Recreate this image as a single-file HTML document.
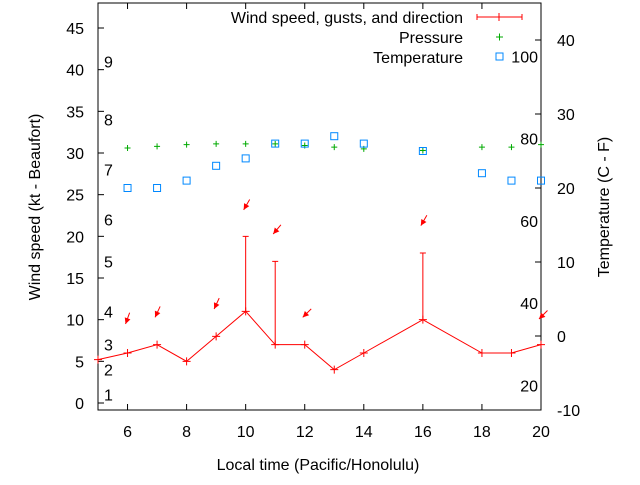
<!DOCTYPE html>
<html><head><meta charset="utf-8"><style>
body{margin:0;background:#fff;}
svg text{font-family:"Liberation Sans",sans-serif;font-size:16px;fill:#000;}
</style></head><body>
<svg id="c" width="640" height="480"></svg>
<script>
const hours=[6,7,8,9,10,11,12,13,14,16,18,19,20];
const windHours=[5,6,7,8,9,10,11,12,13,14,16,18,19,20];
const windSpeed=[5.2,6,7,5,8,11,7,7,4,6,10,6,6,7];
const gustHours=[10,11,16];
const gustSpeed=[20,17,18];
const pressure=[30.6,30.8,31,31.1,31.1,31.1,30.9,30.7,30.5,30.3,30.7,30.7,31];
const tempC=[20,20,21,23,24,26,26,27,26,25,22,21,21];
const arrowHours=[6,7,9,10,11,12,16,20];
const arrowLevel=[10.2,11,12,23.9,21,11,22,10.8];
const arrowDir=[20,25,25,30,40,45,30,45];
const xTicks=[6,8,10,12,14,16,18,20];
const yTicks=[0,5,10,15,20,25,30,35,40,45];
const y2Ticks=[-10,0,10,20,30,40];
const beaufort=[[1,1],[2,4],[3,7],[4,11],[5,17],[6,22],[7,28],[8,34],[9,41]];
const fahr=[20,40,60,80,100];

const L=98,R=541,T=3,B=410;
const X=h=>L+(h-5)*(R-L)/15;
const Y=v=>B-(v+0.84)*(B-T)/48.84;
const Y2=c=>336-c*7.4;
const svg=document.getElementById('c');
const NS='http://www.w3.org/2000/svg';
function el(tag,at,name,txt){const e=document.createElementNS(NS,tag);for(const k in at)e.setAttribute(k,at[k]);


if(txt!==undefined)e.textContent=txt;svg.appendChild(e);return e;}
el('rect',{x:L,y:T,width:R-L,height:B-T,fill:'none',stroke:'#000'},'plot-frame');
xTicks.forEach(h=>{const x=X(h);el('line',{x1:x,x2:x,y1:B,y2:B-6,stroke:'#000'},'x-tick');el('line',{x1:x,x2:x,y1:T,y2:T+6,stroke:'#000'},'x-tick-top');
el('text',{x:x,y:B+27,'text-anchor':'middle'},'x-tick-label',h);});
yTicks.forEach(v=>{const y=Y(v);el('line',{x1:L,x2:L+6,y1:y,y2:y,stroke:'#000'},'y-tick');
el('text',{x:L-14,y:y+6,'text-anchor':'end'},'y-tick-label',v);});
y2Ticks.forEach(c=>{const y=Y2(c);el('line',{x1:R,x2:R-6,y1:y,y2:y,stroke:'#000'},'y2-tick');
el('text',{x:R+16,y:y+6},'y2-tick-label',c);});
beaufort.forEach(b=>el('text',{x:104,y:Y(b[1])+6},'beaufort-label',b[0]));
fahr.forEach(f=>el('text',{x:538,y:Y2((f-32)*5/9)+6,'text-anchor':'end'},'fahrenheit-label',f));
el('text',{x:318,y:470,'text-anchor':'middle'},'x-axis-title','Local time (Pacific/Honolulu)');
el('text',{x:40,y:207,'text-anchor':'middle',transform:'rotate(-90 40 207)'},'y-axis-title','Wind speed (kt - Beaufort)');
el('text',{x:609,y:207,'text-anchor':'middle',transform:'rotate(-90 609 207)'},'y2-axis-title','Temperature (C - F)');
el('polyline',{points:windHours.map((h,i)=>X(h)+','+Y(windSpeed[i])).join(' '),fill:'none',stroke:'#f00'},'wind-speed-line');
windHours.forEach((h,i)=>{const x=X(h),y=Y(windSpeed[i]);el('path',{d:`M${x-4},${y}h8M${x},${y-4}v8`,stroke:'#f00'},'wind-point');});
gustHours.forEach((h,i)=>{const x=X(h),w=windSpeed[windHours.indexOf(h)];el('path',{d:`M${x},${Y(w)}V${Y(gustSpeed[i])}M${x-3},${Y(gustSpeed[i])}h6`,stroke:'#f00',fill:'none'},'gust-bar');});
hours.forEach((h,i)=>{const x=X(h),y=Y(pressure[i]);el('path',{d:`M${x-3},${y}h6M${x},${y-3}v6`,stroke:'#0a0'},'pressure-point');});
hours.forEach((h,i)=>{el('rect',{x:X(h)-3.5,y:Y2(tempC[i])-3.5,width:7,height:7,fill:'none',stroke:'#08f'},'temperature-point');});
arrowHours.forEach((h,i)=>{const hx=X(h)-2,hy=Y(arrowLevel[i])+6,a=arrowDir[i]*Math.PI/180;
const tx=hx+12*Math.sin(a),ty=hy-12*Math.cos(a);
const ux=(hx-tx)/12,uy=(hy-ty)/12,px=-uy,py=ux;
el('line',{x1:tx,y1:ty,x2:hx,y2:hy,stroke:'#f00'},'wind-direction-arrow');
el('polygon',{points:`${hx},${hy} ${hx-ux*6+px*3},${hy-uy*6+py*3} ${hx-ux*6-px*3},${hy-uy*6-py*3}`,fill:'#f00'},'wind-arrow-head');});
el('text',{x:463,y:23,'text-anchor':'end'},'legend-wind-label','Wind speed, gusts, and direction');
el('path',{d:'M477,17h45M477,14v6M522,14v6M499,13v8',stroke:'#f00'},'legend-wind-sample');
el('text',{x:463,y:43,'text-anchor':'end'},'legend-pressure-label','Pressure');
el('path',{d:'M496,37h7M499.5,33.5v7',stroke:'#0a0'},'legend-pressure-sample');
el('text',{x:463,y:63,'text-anchor':'end'},'legend-temperature-label','Temperature');
el('rect',{x:496,y:53,width:7,height:7,fill:'none',stroke:'#08f'},'legend-temperature-sample');
</script></body></html>
